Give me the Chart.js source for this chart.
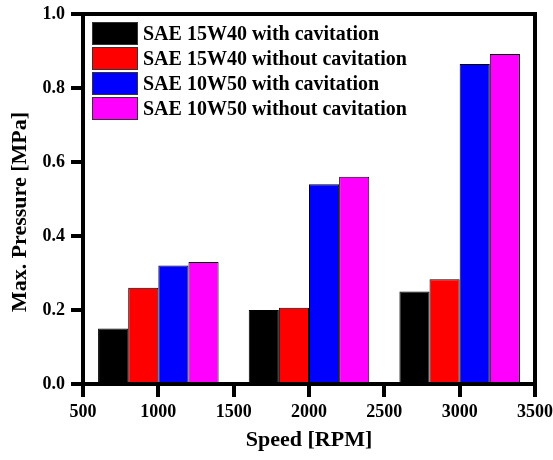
<!DOCTYPE html>
<html>
<head>
<meta charset="utf-8">
<script src="https://cdn.jsdelivr.net/npm/chart.js@4.4.1/dist/chart.umd.min.js"></script>
<style>
  html, body { margin: 0; padding: 0; background: #fff; }
  #wrap { width: 553px; height: 460px; position: relative; }
</style>
</head>
<body>
<div id="wrap"><canvas id="c" width="553" height="460"></canvas></div>
<script>
const speeds = [1000, 2000, 3000];
const seriesLabels = [
  "SAE 15W40 with cavitation",
  "SAE 15W40 without cavitation",
  "SAE 10W50 with cavitation",
  "SAE 10W50 without cavitation"
];
const sae15w40With = [0.15, 0.20, 0.25];
const sae15w40Without = [0.26, 0.206, 0.283];
const sae10w50With = [0.32, 0.54, 0.865];
const sae10w50Without = [0.33, 0.56, 0.892];
const yTicks = [0, 0.2, 0.4, 0.6, 0.8, 1.0];
const xTicks = [500, 1000, 1500, 2000, 2500, 3000, 3500];
const xTitle = "Speed [RPM]";
const yTitle = "Max. Pressure [MPa]";

const colors = ["#000000", "#ff0000", "#0000ff", "#ff00ff"];
const seriesValues = [sae15w40With, sae15w40Without, sae10w50With, sae10w50Without];

const FONT = "'Liberation Serif', 'DejaVu Serif', serif";

const datasets = seriesValues.map((vals, i) => ({
  label: seriesLabels[i],
  data: speeds.map((s, j) => ({ x: s, y: vals[j] })),
  backgroundColor: colors[i],
  borderColor: "#000000",
  borderWidth: 1,
  borderSkipped: "bottom",
  categoryPercentage: 1.6,
  barPercentage: 1.0
}));

const framePlugin = {
  id: "frame",
  afterDraw(chart) {
    const ctx = chart.ctx;
    const a = chart.chartArea;
    const xs = chart.scales.x, ys = chart.scales.y;
    ctx.save();
    const lw = 4;
    const L = Math.round(a.left), R = Math.round(a.right), T = Math.round(a.top), B = Math.round(a.bottom);
    ctx.fillStyle = "#000000";
    // frame + outward tick marks in one filled path
    ctx.beginPath();
    ctx.rect(L - lw / 2, T - lw / 2, lw, B - T + lw);
    ctx.rect(R - lw / 2, T - lw / 2, lw, B - T + lw);
    ctx.rect(L - lw / 2, T - lw / 2, R - L + lw, lw);
    ctx.rect(L - lw / 2, B - lw / 2, R - L + lw, lw);
    for (let i = 0; i < xTicks.length; i++) {
      const px = Math.round(xs.getPixelForValue(xTicks[i]));
      ctx.rect(px - 2, B, 4, 13);
    }
    for (let i = 0; i < yTicks.length; i++) {
      const py = Math.round(ys.getPixelForValue(yTicks[i]));
      ctx.rect(L - 12, py - 2, 14, 4);
    }
    ctx.fill("nonzero");
    // y title
    ctx.save();
    ctx.translate(20, 212);
    ctx.rotate(-Math.PI / 2);
    ctx.font = "bold 22px " + FONT;
    ctx.textAlign = "center";
    ctx.textBaseline = "middle";
    ctx.fillText(yTitle, 0, 0);
    ctx.restore();
    // legend
    const x0 = L + 9, y0 = T + 8, bw = 46, bh = 23, pitch = 25;
    ctx.font = "bold 20px " + FONT;
    ctx.textBaseline = "middle";
    ctx.textAlign = "left";
    chart.data.datasets.forEach((ds, i) => {
      const y = y0 + i * pitch;
      ctx.fillStyle = "#333";
      ctx.fillRect(x0, y, bw, bh);
      ctx.fillStyle = ds.backgroundColor;
      ctx.fillRect(x0 + 1, y + 1, bw - 2, bh - 2);
      ctx.fillStyle = "#000";
      ctx.fillText(ds.label, x0 + bw + 5, y + bh / 2 + 1);
    });
    ctx.restore();
  }
};

const noGrid = () => ({ display: false, drawOnChartArea: false, drawTicks: true, tickLength: 12 });

new Chart(document.getElementById("c"), {
  type: "bar",
  data: { datasets },
  plugins: [framePlugin],
  options: {
    responsive: false,
    animation: false,
    devicePixelRatio: 1,
    layout: { padding: { left: 0, right: 18, top: 14, bottom: 0 } },
    plugins: { legend: { display: false }, tooltip: { enabled: false } },
    scales: {
      x: {
        type: "linear",
        offset: false,
        min: 500,
        max: 3500,
        afterBuildTicks(axis) { axis.ticks = xTicks.map(v => ({ value: v })); },
        afterFit(axis) { axis.height = 76; axis.paddingLeft = 0; axis.paddingRight = 0; },
        grid: noGrid(),
        border: { display: false },
        ticks: { color: "#000", font: { family: FONT, weight: "bold", size: 18 }, padding: 6, maxRotation: 0, callback: v => String(v) },
        title: { display: true, text: xTitle, color: "#000", font: { family: FONT, weight: "bold", size: 22 }, padding: { top: 0, bottom: 6 } }
      },
      y: {
        type: "linear",
        min: 0,
        max: 1.0,
        afterBuildTicks(axis) { axis.ticks = yTicks.map(v => ({ value: v })); },
        afterFit(axis) { axis.width = 83; axis.paddingTop = 0; axis.paddingBottom = 0; },
        grid: noGrid(),
        border: { display: false },
        ticks: { color: "#000", font: { family: FONT, weight: "bold", size: 18 }, padding: 6, callback: v => v.toFixed(1) },
        title: { display: false }
      }
    }
  }
});
</script>
</body>
</html>
